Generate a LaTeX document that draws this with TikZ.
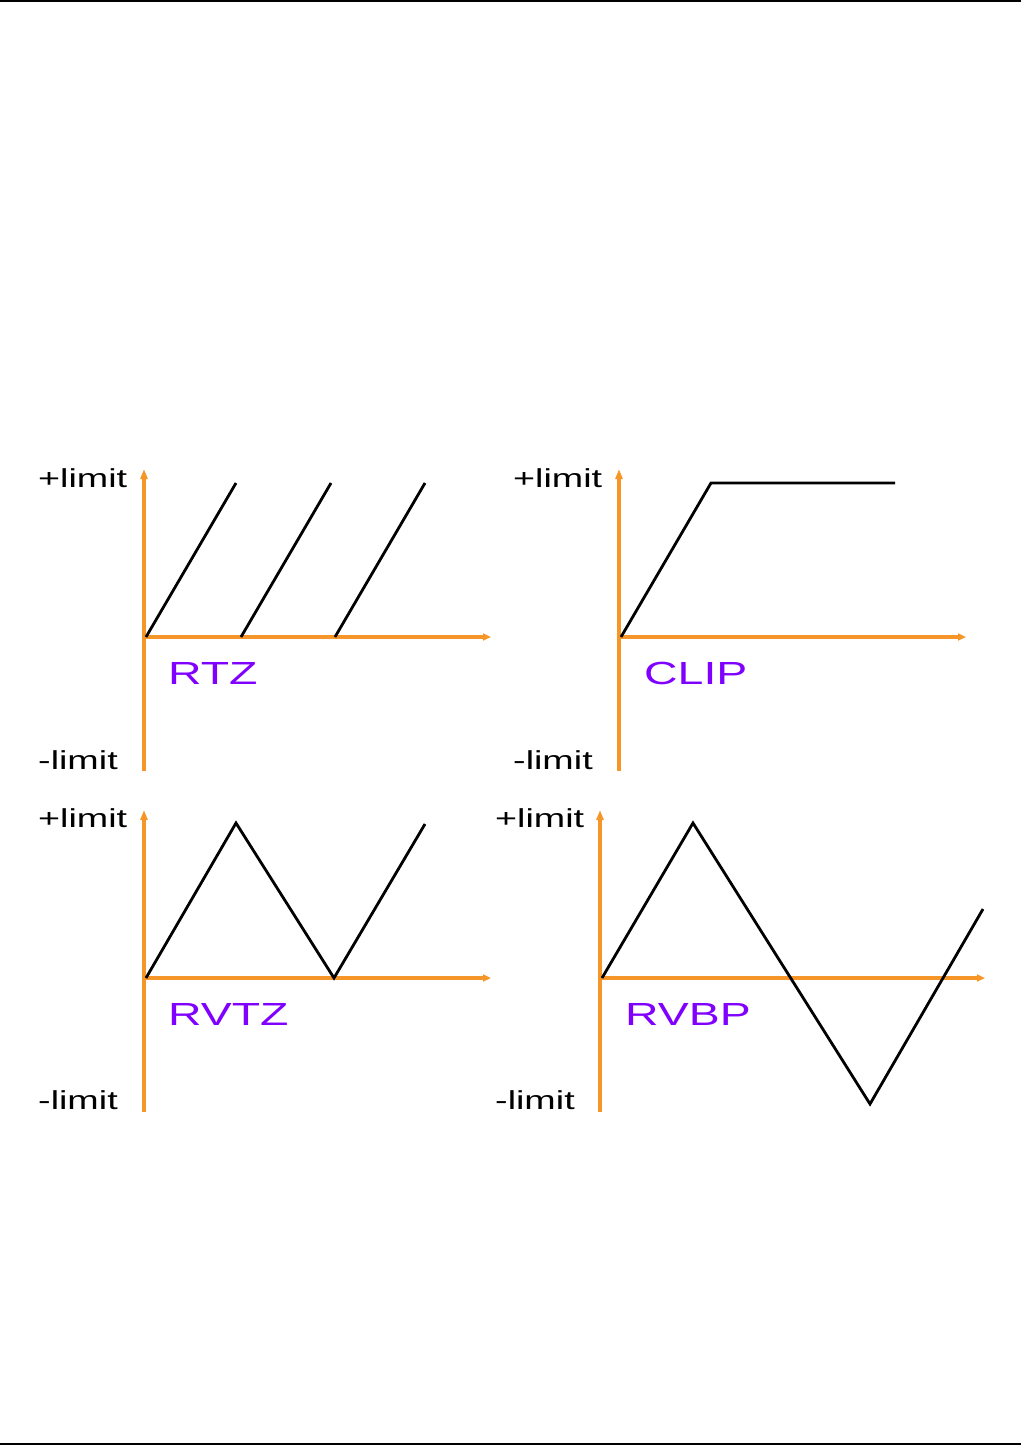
\documentclass[tikz,border=0pt]{standalone}
\usepackage{fontspec}
\setmainfont{Liberation Sans}[FakeStretch=1.45]
\usetikzlibrary{arrows.meta}
\definecolor{axisorange}{RGB}{247,150,40}
\definecolor{labelpurple}{RGB}{128,0,255}
\begin{document}
\begin{tikzpicture}[x=1pt,y=-1pt,
  axis/.style={draw=axisorange,line width=3.3pt,-{Triangle[length=8pt,width=7pt]}},
  yaxis/.style={draw=axisorange,line width=3.3pt,-{Triangle[length=10pt,width=7pt]}},
  curve/.style={draw=black,line width=2.8pt,line join=miter},
  rule/.style={draw=black,line width=2pt},
  lim/.style={font=\fontsize{26}{26}\selectfont,inner sep=0pt,anchor=west},
  mode/.style={font=\fontsize{32}{32}\selectfont,text=labelpurple,inner sep=0pt,anchor=west}]
\useasboundingbox (0,0) rectangle (1021,1446);
% page rules
\coordinate (tl) at (0,1); \coordinate (tr) at (1021,1);
\coordinate (bl) at (0,1444); \coordinate (br) at (1021,1444);
\draw[rule] (tl) -- (tr);
\draw[rule] (bl) -- (br);

% ---------- Panel 1: RTZ ----------
\coordinate (o1) at (144,637);
\coordinate (y1b) at (144,771); \coordinate (y1t) at (144,469);
\coordinate (x1e) at (491,637);
\draw[yaxis] (y1b) -- (y1t);
\draw[axis] (o1) -- (x1e);
\coordinate (a1) at (146,637); \coordinate (a2) at (236,483);
\coordinate (b1) at (241,637); \coordinate (b2) at (331,483);
\coordinate (c1) at (335,637); \coordinate (c2) at (425,483);
\draw[curve] (a1) -- (a2);
\draw[curve] (b1) -- (b2);
\draw[curve] (c1) -- (c2);
\node[lim] (p1) at (38,478) {+limit};
\node[lim] (m1) at (38,760) {-limit};
\node[mode] (rtz) at (168,673) {RTZ};

% ---------- Panel 2: CLIP ----------
\coordinate (o2) at (619,637);
\coordinate (y2b) at (619,771); \coordinate (y2t) at (619,469);
\coordinate (x2e) at (966,637);
\draw[yaxis] (y2b) -- (y2t);
\draw[axis] (o2) -- (x2e);
\coordinate (d1) at (621,637); \coordinate (d2) at (711,483); \coordinate (d3) at (895,483);
\draw[curve] (d1) -- (d2) -- (d3);
\node[lim] (p2) at (513,478) {+limit};
\node[lim] (m2) at (513,760) {-limit};
\node[mode] (clip) at (644,673) {CLIP};

% ---------- Panel 3: RVTZ ----------
\coordinate (o3) at (144,978);
\coordinate (y3b) at (144,1112); \coordinate (y3t) at (144,810);
\coordinate (x3e) at (491,978);
\draw[yaxis] (y3b) -- (y3t);
\draw[axis] (o3) -- (x3e);
\coordinate (e1) at (146,978); \coordinate (e2) at (236,823);
\coordinate (e3) at (334,978); \coordinate (e4) at (425,824);
\draw[curve] (e1) -- (e2) -- (e3) -- (e4);
\node[lim] (p3) at (38,818) {+limit};
\node[lim] (m3) at (38,1100) {-limit};
\node[mode] (rvtz) at (168,1014) {RVTZ};

% ---------- Panel 4: RVBP ----------
\coordinate (o4) at (600,978);
\coordinate (y4b) at (600,1112); \coordinate (y4t) at (600,810);
\coordinate (x4e) at (985,978);
\draw[yaxis] (y4b) -- (y4t);
\draw[axis] (o4) -- (x4e);
\coordinate (f1) at (602,978); \coordinate (f2) at (693,823);
\coordinate (f3) at (870,1104); \coordinate (f4) at (983,909);
\draw[curve] (f1) -- (f2) -- (f3) -- (f4);
\node[lim] (p4) at (495,818) {+limit};
\node[lim] (m4) at (495,1100) {-limit};
\node[mode] (rvbp) at (625,1014) {RVBP};
\end{tikzpicture}
\end{document}
